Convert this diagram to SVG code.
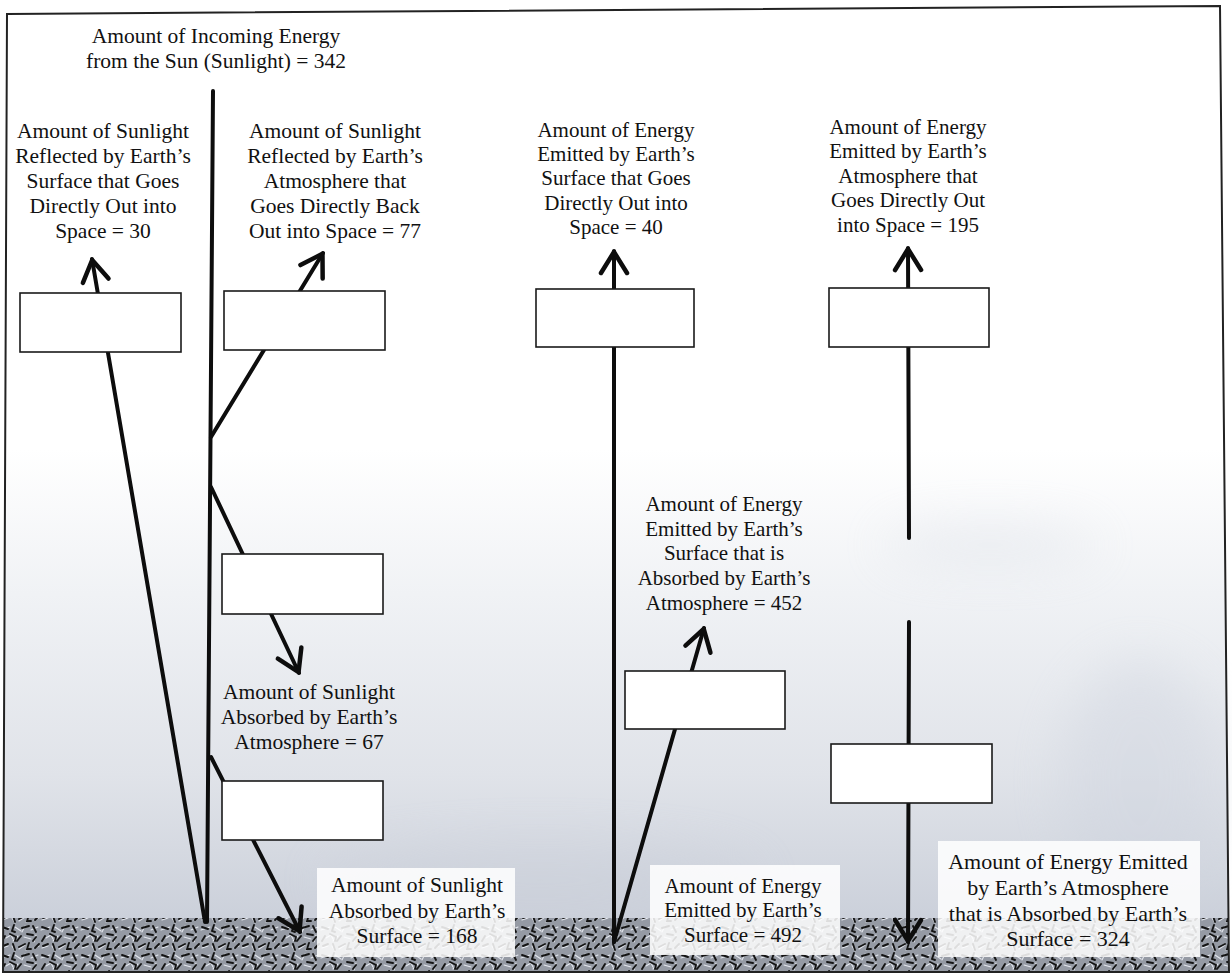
<svg xmlns="http://www.w3.org/2000/svg" width="1232" height="975" viewBox="0 0 1232 975">
<style>
  text { font-family: 'Liberation Serif', 'DejaVu Serif', 'Times New Roman', serif; }
  .t { font-size: 21.5px; fill: #111; text-anchor: middle; }
  .s21 { font-size: 21px; }
  .s22 { font-size: 22px; }
  .box { fill: #ffffff; stroke: #1a1a1a; stroke-width: 1.6; }
  .ln { stroke: #0d0d0d; stroke-width: 4; fill: none; stroke-linecap: round; }
  .arr { marker-end: url(#ah); }
  .lblbg { fill: #ffffff; opacity: 0.86; }
</style>
<defs>
  <marker id="ah" markerUnits="userSpaceOnUse" viewBox="-28 -18 32 36" markerWidth="32" markerHeight="36" refX="0" refY="0" orient="auto" overflow="visible">
    <path d="M-22,-13 L-1,0 L-22,13" fill="none" stroke="#0d0d0d" stroke-width="4.5" stroke-linecap="round" stroke-linejoin="round"/>
  </marker>
  <linearGradient id="sky" gradientUnits="userSpaceOnUse" x1="0" y1="14" x2="0" y2="920">
    <stop offset="0" stop-color="#ffffff"/>
    <stop offset="0.48" stop-color="#ffffff"/>
    <stop offset="0.64" stop-color="#f0f2f5"/>
    <stop offset="0.84" stop-color="#e0e3e9"/>
    <stop offset="1" stop-color="#cbd0da"/>
  </linearGradient>
  <filter id="blur" x="-50%" y="-50%" width="200%" height="200%">
    <feGaussianBlur stdDeviation="25"/>
  </filter>
  <pattern id="gravel" patternUnits="userSpaceOnUse" width="40" height="28">
    <rect width="40" height="28" fill="#959aa4"/>
    <path d="M1,6 l9,-3 M15,3 l6,4 M25,2 l-3,6 M31,6 l7,-3 M6,14 l5,-3 l2,4 M18,12 l-5,5 M24,13 l7,2 M36,11 l-2,7 M2,24 l6,-2 M12,22 l3,5 M19,25 l6,-4 M29,20 l-3,6 M34,24 l5,-2" stroke="#e4e7ee" stroke-width="1.1" stroke-linecap="round" fill="none"/>
    <path d="M2,3 l6,2 M14,1 l-2,6 l3,1 M22,4 l7,-2 M33,2 l3,6 M5,12 l-3,5 M10,10 l6,3 l-1,4 M21,12 l-4,5 M27,10 l6,1 M36,13 l-3,4 M3,22 l5,-2 M13,20 l2,6 M19,23 l6,-3 M29,19 l-2,6 l4,0 M35,24 l4,-4" stroke="#141414" stroke-width="1.9" stroke-linecap="round" fill="none"/>
  </pattern>
</defs>

<!-- background -->
<rect x="0" y="0" width="1232" height="975" fill="#ffffff"/>
<polygon points="7,14 1220,6 1229,972 3,972" fill="url(#sky)"/>
<g filter="url(#blur)" opacity="0.4">
  <ellipse cx="990" cy="545" rx="110" ry="18" fill="#d3d8e1"/>
  <ellipse cx="1140" cy="780" rx="80" ry="120" fill="#cdd3de"/>
  <ellipse cx="540" cy="880" rx="220" ry="35" fill="#c9ced8"/>
</g>
<rect x="4" y="918" width="1224" height="53" fill="url(#gravel)"/>
<polygon points="7,14 1220,6 1229,972 3,972" fill="none" stroke="#222" stroke-width="2"/>

<!-- connectors -->
<g id="connectors">
  <line class="ln" x1="213" y1="91" x2="207" y2="922" stroke-width="4.5"/>
  <line class="ln arr" x1="205" y1="922" x2="92" y2="259"/>
  <line class="ln arr" x1="211" y1="437" x2="323" y2="253"/>
  <line class="ln arr" x1="211" y1="487" x2="299" y2="673"/>
  <line class="ln arr" x1="211" y1="757" x2="300" y2="932"/>
  <line class="ln arr" x1="614" y1="942" x2="614" y2="251"/>
  <line class="ln arr" x1="614" y1="942" x2="704" y2="628"/>
  <line class="ln arr" x1="909" y1="538" x2="908" y2="248"/>
  <line class="ln arr" x1="909" y1="622" x2="908" y2="942"/>
</g>

<g font-family="'Liberation Serif', 'DejaVu Serif', serif">
<!-- title -->
<g id="title">
  <text class="t" x="216" y="43">Amount of Incoming Energy</text>
  <text class="t" x="216" y="68">from the Sun (Sunlight) = 342</text>
</g>

<g id="label-surface-reflected">
  <text class="t" x="103" y="138">Amount of Sunlight</text>
  <text class="t" x="103" y="163">Reflected by Earth’s</text>
  <text class="t" x="103" y="188">Surface that Goes</text>
  <text class="t" x="103" y="213">Directly Out into</text>
  <text class="t" x="103" y="238">Space = 30</text>
</g>
<g id="label-atmos-reflected">
  <text class="t" x="335" y="138">Amount of Sunlight</text>
  <text class="t" x="335" y="163">Reflected by Earth’s</text>
  <text class="t" x="335" y="188">Atmosphere that</text>
  <text class="t" x="335" y="213">Goes Directly Back</text>
  <text class="t" x="335" y="238">Out into Space = 77</text>
</g>
<g id="label-surface-emitted-space">
  <text class="t s21" x="616" y="137">Amount of Energy</text>
  <text class="t s21" x="616" y="161">Emitted by Earth’s</text>
  <text class="t s21" x="616" y="185">Surface that Goes</text>
  <text class="t s21" x="616" y="210">Directly Out into</text>
  <text class="t s21" x="616" y="234">Space = 40</text>
</g>
<g id="label-atmos-emitted-space">
  <text class="t s21" x="908" y="134">Amount of Energy</text>
  <text class="t s21" x="908" y="158">Emitted by Earth’s</text>
  <text class="t s21" x="908" y="183">Atmosphere that</text>
  <text class="t s21" x="908" y="207">Goes Directly Out</text>
  <text class="t s21" x="908" y="232">into Space = 195</text>
</g>
<g id="label-atmos-absorbed-sun">
  <text class="t" x="309" y="699">Amount of Sunlight</text>
  <text class="t" x="309" y="724">Absorbed by Earth’s</text>
  <text class="t" x="309" y="749">Atmosphere = 67</text>
</g>
<g id="label-surface-absorbed-atmos">
  <text class="t s21" x="724" y="511">Amount of Energy</text>
  <text class="t s21" x="724" y="536">Emitted by Earth’s</text>
  <text class="t s21" x="724" y="560">Surface that is</text>
  <text class="t s21" x="724" y="585">Absorbed by Earth’s</text>
  <text class="t s21" x="724" y="610">Atmosphere = 452</text>
</g>
<g id="label-surface-absorbed-sun">
  <rect class="lblbg" x="317" y="868" width="198" height="89"/>
  <text class="t" x="417" y="892">Amount of Sunlight</text>
  <text class="t" x="417" y="918">Absorbed by Earth’s</text>
  <text class="t" x="417" y="943">Surface = 168</text>
</g>
<g id="label-surface-emitted">
  <rect class="lblbg" x="650" y="865" width="190" height="90"/>
  <text class="t s21" x="743" y="893">Amount of Energy</text>
  <text class="t s21" x="743" y="917">Emitted by Earth’s</text>
  <text class="t s21" x="743" y="942">Surface = 492</text>
</g>
<g id="label-atmos-to-surface">
  <rect class="lblbg" x="938" y="841" width="262" height="116"/>
  <text class="t s22" x="1068" y="869">Amount of Energy Emitted</text>
  <text class="t s22" x="1068" y="895">by Earth’s Atmosphere</text>
  <text class="t s22" x="1068" y="921">that is Absorbed by Earth’s</text>
  <text class="t s22" x="1068" y="946">Surface = 324</text>
</g>
</g>

<!-- blank answer boxes -->
<g id="box1"><rect class="box" x="20" y="293" width="161" height="59"/></g>
<g id="box2"><rect class="box" x="224" y="291" width="161" height="59"/></g>
<g id="box3"><rect class="box" x="222" y="554" width="161" height="60"/></g>
<g id="box4"><rect class="box" x="222" y="781" width="161" height="59"/></g>
<g id="box5"><rect class="box" x="536" y="289" width="158" height="58"/></g>
<g id="box6"><rect class="box" x="625" y="671" width="160" height="58"/></g>
<g id="box7"><rect class="box" x="829" y="288" width="160" height="59"/></g>
<g id="box8"><rect class="box" x="831" y="744" width="161" height="59"/></g>
</svg>
